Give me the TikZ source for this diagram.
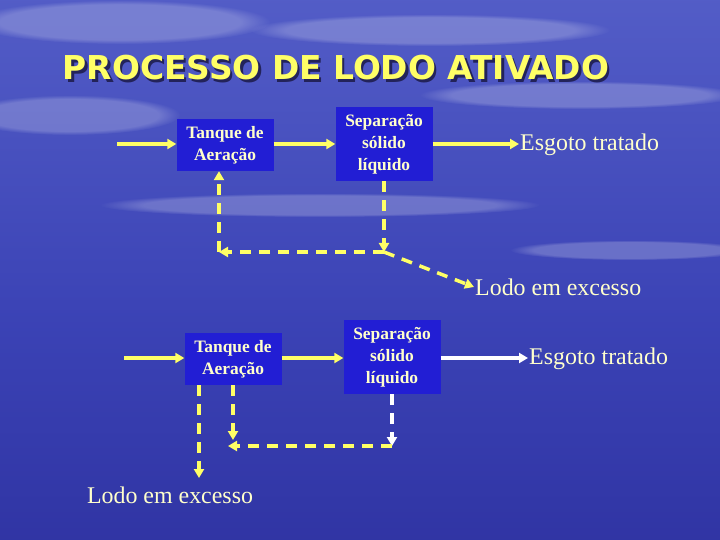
\documentclass[tikz,border=0pt]{standalone}
\usepackage{fontspec}
\setmainfont{Liberation Serif}
\newfontfamily\titlefont{DejaVu Sans}
\usetikzlibrary{arrows.meta,fadings}
\definecolor{boxblue}{RGB}{34,30,212}
\definecolor{ylw}{RGB}{255,255,102}
\definecolor{txtylw}{RGB}{255,255,204}
\definecolor{tshadow}{RGB}{35,35,90}
\pgfdeclareverticalshading{bgshade}{100bp}{rgb(0bp)=(0.14,0.14,0.56); rgb(45bp)=(0.23,0.26,0.71); rgb(80bp)=(0.34,0.38,0.79); rgb(100bp)=(0.47,0.51,0.85)}
\tikzset{
  procbox/.style={fill=boxblue, text=txtylw, font=\fontsize{17.5}{22}\selectfont\bfseries, align=center, inner sep=0pt, minimum width=97bp},
  lbl/.style={text=txtylw, font=\fontsize{24}{27}\selectfont, inner sep=1bp},
  flow/.style={draw=ylw, line width=3.5bp, -{Triangle[length=9bp,width=10bp]}},
  dflow/.style={flow, dash pattern=on 11bp off 8bp},
  wflow/.style={flow, draw=white, -{Triangle[length=9bp,width=10bp,fill=white]}},
  cloud/.style={fill=white, fill opacity=0.22, path fading=circle with fuzzy edge 20 percent}
}
\newcommand{\titletext}{PROCESSO DE LODO ATIVADO}
\begin{document}
\begin{tikzpicture}[x=1bp,y=-1bp]
\shade[shading=bgshade] (0,0) rectangle (720,540);
\useasboundingbox (0,0) rectangle (720,540);
% faint clouds
\fill[cloud] (120,22) ellipse (150 and 22);
\fill[cloud] (430,30) ellipse (180 and 16);
\fill[cloud] (70,115) ellipse (110 and 20);
\fill[cloud] (580,95) ellipse (160 and 14);
\fill[cloud] (320,205) ellipse (220 and 12);
\fill[cloud] (630,250) ellipse (120 and 10);
% title
\node[inner sep=0pt, font=\titlefont\bfseries\fontsize{33}{36}\selectfont] (title) at (336,69)
  {\rlap{\hspace{2.5bp}\raisebox{-2.5bp}{\textcolor{tshadow}{\titletext}}}\textcolor{ylw}{\titletext}};
% top diagram
\node[procbox, minimum height=52bp] (ta1) at (225,145) {Tanque de\\Aeração};
\node[procbox, minimum height=74bp] (sp1) at (384,144) {Separação\\sólido\\líquido};
\node[lbl, anchor=west] (es1) at (519,145) {Esgoto tratado};
\node[lbl, anchor=west] (lo1) at (474,287) {Lodo em excesso};
\coordinate (in1) at (117,144);
\coordinate (c1) at (384,252);
\coordinate (c2) at (219,252);
\draw[flow] (in1) -- (in1 -| ta1.west);
\draw[flow] (ta1.east |- in1) -- (in1 -| sp1.west);
\draw[flow] (sp1.east) -- (sp1.east -| es1.west);
\draw[dflow] (sp1.south) -- (c1);
\draw[dflow] (c1) -- (c2);
\draw[dflow] (c2) -- (c2 |- ta1.south);
\draw[dflow] (c1) -- (lo1.west);
% bottom diagram
\node[procbox, minimum height=52bp] (ta2) at (233,359) {Tanque de\\Aeração};
\node[procbox, minimum height=74bp] (sp2) at (392,357) {Separação\\sólido\\líquido};
\node[lbl, anchor=west] (es2) at (528,359) {Esgoto tratado};
\node[lbl] (lo2) at (170,495) {Lodo em excesso};
\coordinate (in2) at (124,358);
\coordinate (c3) at (392,446);
\coordinate (c4) at (228,446);
\coordinate (c5) at (233,440);
\coordinate (c6) at (199,478);
\draw[flow] (in2) -- (in2 -| ta2.west);
\draw[flow] (ta2.east |- in2) -- (in2 -| sp2.west);
\draw[wflow] (sp2.east |- in2) -- (in2 -| es2.west);
\draw[wflow, dash pattern=on 11bp off 8bp] (sp2.south) -- (c3);
\draw[dflow] (c3) -- (c4);
\draw[dflow] (ta2.south) -- (c5);
\draw[dflow] (c6 |- ta2.south) -- (c6);
\end{tikzpicture}
\end{document}
